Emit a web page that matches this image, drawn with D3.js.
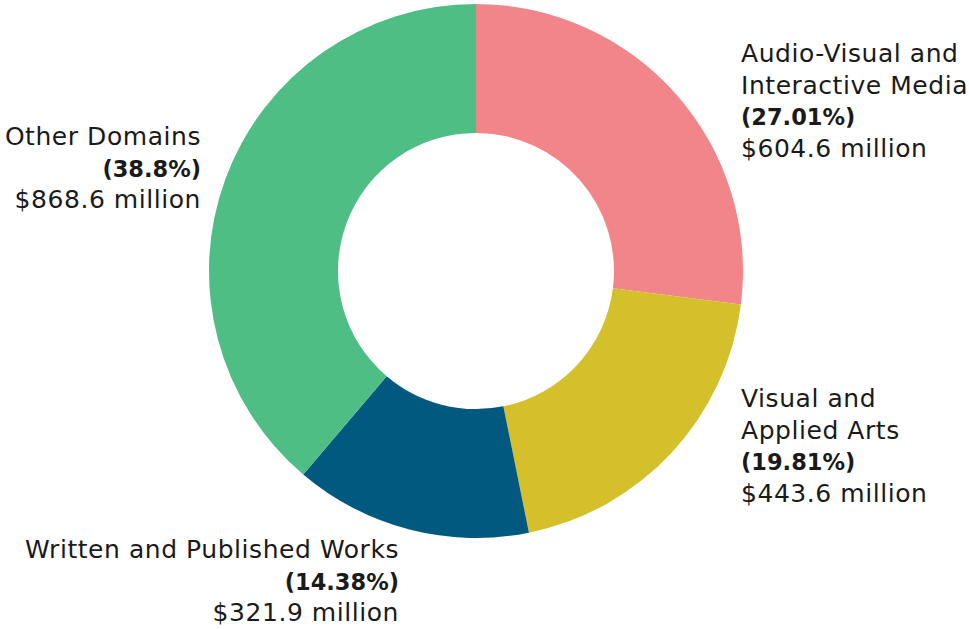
<!DOCTYPE html>
<html><head><meta charset="utf-8">
<script src="https://cdn.jsdelivr.net/npm/d3@7"></script>
<style>
html,body{margin:0;padding:0;background:#fff;}
svg text{font-family:"DejaVu Sans",sans-serif;fill:#1a1a1a;}
</style></head>
<body>
<svg id="chart" width="969" height="629"></svg>
<script>
const categories = ["Audio-Visual and Interactive Media","Visual and Applied Arts","Written and Published Works","Other Domains"];
const labelLines = [["Audio-Visual and","Interactive Media"],["Visual and","Applied Arts"],["Written and Published Works"],["Other Domains"]];
const values = [604.6, 443.6, 321.9, 868.6];
const percents = ["27.01%","19.81%","14.38%","38.8%"];
const colors = ["#F2858A","#D3C02A","#02597F","#4FBE85"];

// label layout (anchor x, first baseline y, alignment)
const labelLayout = [
  {x:741, y:62, anchor:"start"},
  {x:741, y:407, anchor:"start"},
  {x:399, y:558, anchor:"end"},
  {x:201, y:145, anchor:"end"}
];

const svg = d3.select("#chart");
const cx = 476, cy = 271, R = 267, r = 138;
const pie = d3.pie().sort(null).value(d => d)(values);
const arc = d3.arc().innerRadius(r).outerRadius(R);
const g = svg.append("g").attr("transform",`translate(${cx},${cy})`);
g.selectAll("path").data(pie).join("path")
  .attr("d", arc).attr("fill",(d,i)=>colors[i]);

const lh = 31.5;
labelLayout.forEach((L,i)=>{
  const t = svg.append("text").attr("text-anchor",L.anchor);
  const lines = labelLines[i].map(s=>({s,b:false}))
    .concat([{s:`(${percents[i]})`,b:true},{s:`$${d3.format(".1f")(values[i])} million`,b:false}]);
  lines.forEach((ln,k)=>{
    t.append("tspan").attr("x",L.x).attr("y",L.y+k*lh)
      .attr("font-weight",ln.b?"bold":"normal")
      .attr("font-size",ln.b?22.5:25)
      .attr("letter-spacing",ln.b?0:0.55)
      .text(ln.s);
  });
});
</script>
</body></html>
